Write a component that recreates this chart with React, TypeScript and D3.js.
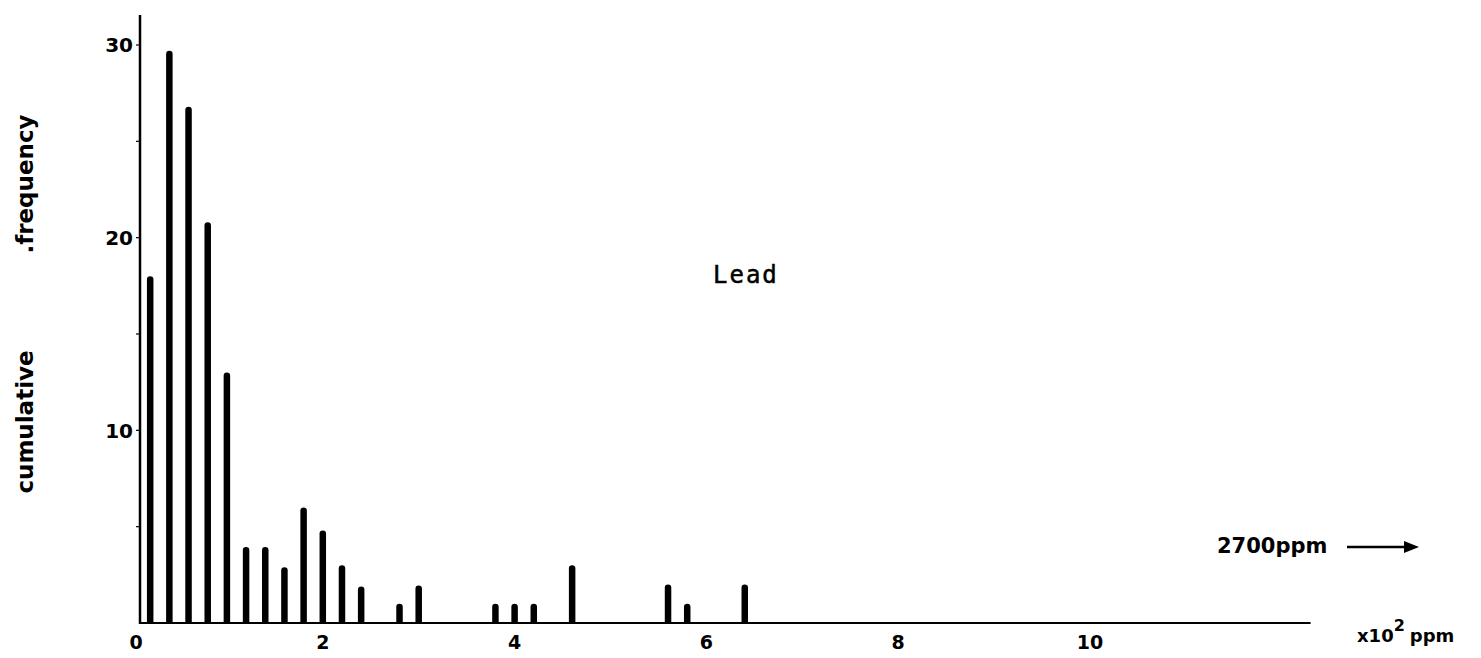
import React from "react";
import * as d3 from "d3";

// Lead concentration classes (x10^2 ppm) and frequencies
const concentrations = [0.2, 0.4, 0.6, 0.8, 1.0, 1.2, 1.4, 1.6, 1.8, 2.0, 2.2, 2.4, 2.8, 3.0, 3.8, 4.0, 4.2, 4.6, 5.6, 5.8, 6.4];
const frequencies = [18, 29.7, 26.8, 20.8, 13, 3.95, 3.95, 2.9, 6, 4.8, 3, 1.9, 1, 1.95, 1, 1, 1, 3, 2, 1, 2];
const xTicks = [0, 2, 4, 6, 8, 10];
const yTickLabels = [10, 20, 30];
const yMinorTicks = [5, 10, 15, 20, 25, 30];

const W = 1481;
const H = 658;

export default function App() {
  const x = d3.scaleLinear().domain([0, 10]).range([131, 1090]);
  const y = d3.scaleLinear().domain([0, 30]).range([623, 45]);
  const data = concentrations.map((c, i) => ({ c, f: frequencies[i] }));
  const axisX = x(0) + 9;
  const barW = 6.5;
  const boldFont = "'DejaVu Sans', sans-serif";

  return (
    <svg width={W} height={H} style={{ position: "absolute", left: 0, top: 0, background: "#fff" }}>
      {/* y axis */}
      <line x1={axisX} x2={axisX} y1={15} y2={y(0) + 1} stroke="#000" strokeWidth={2.5} />
      {yMinorTicks.map((t) => (
        <line key={"mt" + t} x1={axisX - 4} x2={axisX} y1={y(t)} y2={y(t)} stroke="#000" strokeWidth={1.2} />
      ))}
      {yTickLabels.map((t) => (
        <text key={"yl" + t} x={axisX - 7} y={y(t)} dy="0.36em" textAnchor="end"
          fontFamily={boldFont} fontWeight="bold" fontSize={20} fill="#000">{t}</text>
      ))}
      {/* x axis */}
      <line x1={axisX - 1} x2={x(12.3)} y1={y(0)} y2={y(0)} stroke="#000" strokeWidth={2.2} />
      {xTicks.map((t) => (
        <text key={"xl" + t} x={t === 0 ? x(t) + 5 : x(t)} y={649} textAnchor="middle"
          fontFamily={boldFont} fontWeight="bold" fontSize={19} fill="#000">{t}</text>
      ))}
      {/* bars */}
      {data.map((d, i) => (
        <path key={"b" + i}
          d={`M${x(d.c) - barW / 2},${y(0)} L${x(d.c) - barW / 2},${y(d.f) + barW / 2} A${barW / 2},${barW / 2} 0 0 1 ${x(d.c) + barW / 2},${y(d.f) + barW / 2} L${x(d.c) + barW / 2},${y(0)} Z`}
          fill="#000" />
      ))}
      {/* y axis title */}
      <text transform={`translate(33,422) rotate(-90)`} textAnchor="middle"
        fontFamily={boldFont} fontWeight="bold" fontSize={23} fill="#000">cumulative</text>
      <text transform={`translate(33,184) rotate(-90)`} textAnchor="middle"
        fontFamily={boldFont} fontWeight="bold" fontSize={23} fill="#000">.frequency</text>
      {/* Lead label */}
      <text x={713} y={283} fontFamily="'DejaVu Sans Mono', monospace" fontSize={24} letterSpacing={2}
        stroke="#000" strokeWidth={0.5} fill="#000">Lead</text>
      {/* outlier note */}
      <text x={1217} y={553} fontFamily={boldFont} fontWeight="bold" fontSize={21} fill="#000">2700ppm</text>
      <line x1={1347} x2={1408} y1={547} y2={547} stroke="#000" strokeWidth={2.5} />
      <path d="M1404,541 L1419,547 L1404,553 Z" fill="#000" />
      {/* x unit */}
      <text x={1357} y={642} fontFamily={boldFont} fontWeight="bold" fontSize={18} fill="#000">
        x10<tspan dy={-11} fontSize={16}>2</tspan><tspan dy={11} dx={5}>ppm</tspan>
      </text>
    </svg>
  );
}
